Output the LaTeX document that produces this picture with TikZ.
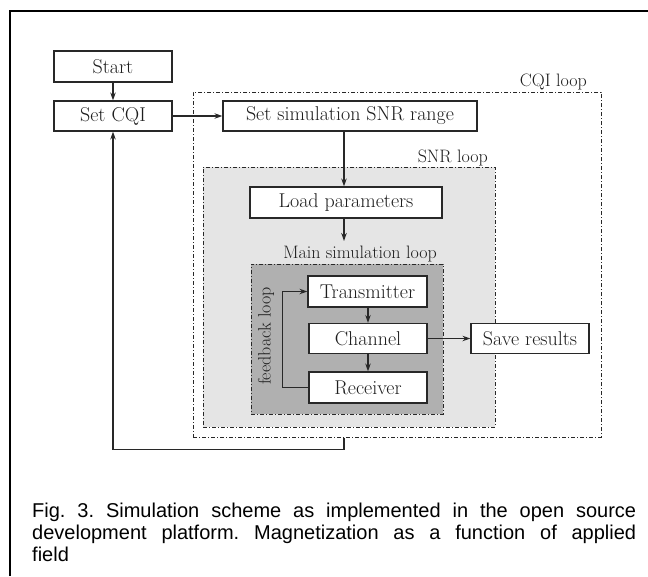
\documentclass[tikz,border=0pt]{standalone}
\usepackage{fontspec}
\newfontfamily\capfont{Liberation Sans}
\usetikzlibrary{arrows.meta}
\frenchspacing
\definecolor{linecol}{RGB}{40,40,40}
\definecolor{txtcol}{RGB}{30,30,30}
\definecolor{snrfill}{RGB}{229,229,229}
\definecolor{mainfill}{RGB}{176,176,176}
\tikzset{
  blk/.style={draw=linecol, fill=white, line width=1.2pt, inner sep=0pt, text=txtcol, font=\fontsize{20}{24}\selectfont},
  loopbox/.style={draw=linecol, line width=1pt, inner sep=0pt, dash pattern=on 4pt off 2pt on 1pt off 2pt},
  lbl/.style={inner sep=0pt, text=txtcol, font=\fontsize{18}{22}\selectfont},
  arr/.style={draw=linecol, line width=1.2pt, -{Stealth[length=8pt,width=5.5pt]}},
  plain/.style={draw=linecol, line width=1.2pt}
}
\begin{document}
\begin{tikzpicture}[x=1pt,y=-1pt]
\useasboundingbox (0,0) rectangle (648,576);
\fill[white] (0,0) rectangle (648,576);
% outer frame
\draw[line width=2pt, black] (10,576) -- (10,10.5) -- (648,10.5);
% loops
\node[loopbox, minimum width=408pt, minimum height=345pt] (cqiloop) at (397,264.5) {};
\node[loopbox, fill=snrfill, minimum width=292pt, minimum height=260pt] (snrloop) at (349,297) {};
\node[loopbox, fill=mainfill, minimum width=192pt, minimum height=150pt] (mainloop) at (347,339) {};
\node[lbl, anchor=base east] (cqilbl) at (587,86) {CQI loop};
\node[lbl, anchor=base east] (snrlbl) at (488,162) {SNR loop};
\node[lbl, anchor=base east] (mainlbl) at (437,258) {Main simulation loop};
\node[lbl, rotate=90] (fblbl) at (266,336) {feedback loop};
% boxes
\node[blk, minimum width=118pt, minimum height=31pt] (start) at (113,66.5) {Start};
\node[blk, minimum width=118pt, minimum height=30pt] (setcqi) at (113,116) {Set CQI};
\node[blk, minimum width=254pt, minimum height=30pt] (snr) at (350,116) {Set simulation SNR range};
\node[blk, minimum width=192pt, minimum height=31pt] (load) at (346,202.5) {Load parameters};
\node[blk, minimum width=119pt, minimum height=31pt] (tx) at (367.5,291.5) {Transmitter};
\node[blk, minimum width=118pt, minimum height=30pt] (ch) at (368,338.5) {Channel};
\node[blk, minimum width=118pt, minimum height=31pt] (rx) at (368,387.5) {Receiver};
\node[blk, minimum width=118pt, minimum height=30pt] (save) at (530,338.5) {Save results};
% helper coordinates
\coordinate (arrx) at (344,0);
\coordinate (mainin) at (344,241);
% connectors
\draw[arr] (start) -- (setcqi);
\draw[arr] (setcqi) -- (snr);
\draw[arr] (snr.south -| arrx) -- (load.north -| arrx);
\draw[arr] (load.south -| arrx) -- (mainin);
\draw[arr] (tx.south -| ch) -- (ch.north);
\draw[arr] (ch) -- (rx);
\draw[arr] (ch) -- (save);
\draw[arr] (rx.west) -- ++(-26,0) |- (tx.west);
\draw[arr] (cqiloop.south -| arrx) -- ++(0,12) -| (setcqi.south);
% caption
\node[inner sep=0pt, anchor=north west, text width=604pt, align=justify, font=\capfont\fontsize{20}{22}\selectfont] (cap) at (32,502.5)
{Fig. 3. Simulation scheme as implemented in the open source\linebreak development platform. Magnetization as a function of applied\linebreak field};
\end{tikzpicture}
\end{document}
